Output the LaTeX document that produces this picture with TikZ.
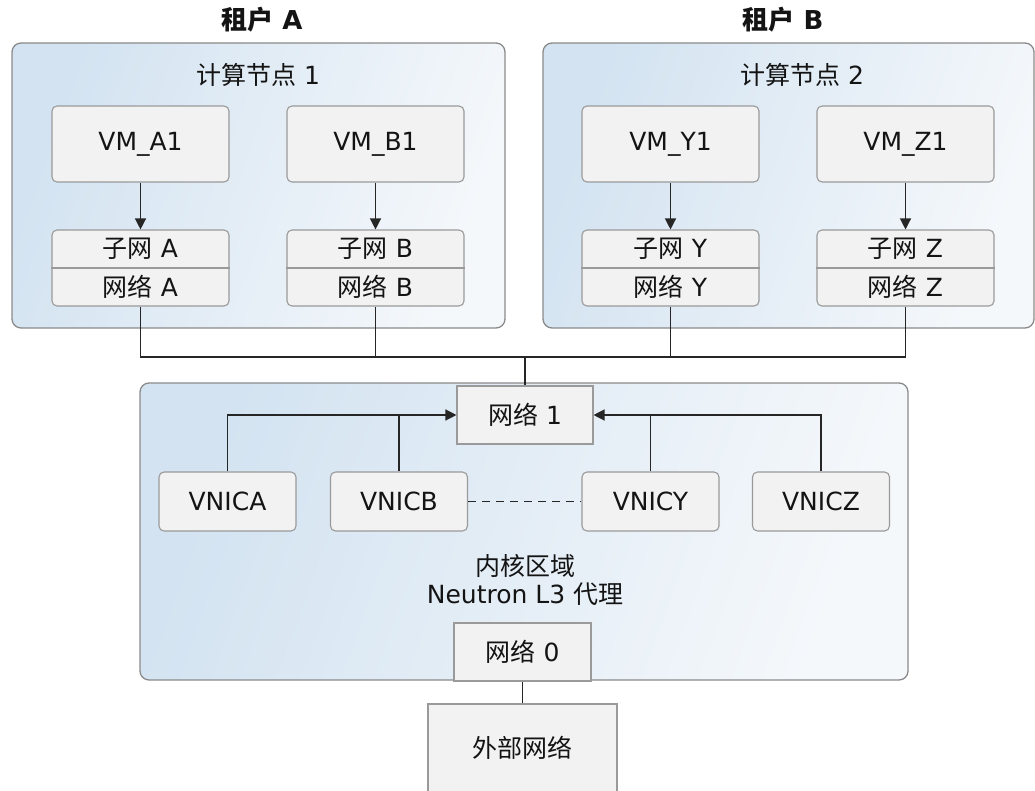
\documentclass[tikz,border=0pt]{standalone}
\usepackage{fontspec}
\setmainfont{DejaVu Sans}
\newfontfamily\cjk{Noto Sans CJK SC}
\usetikzlibrary{arrows.meta}

\definecolor{boxfill}{HTML}{F2F2F3}
\definecolor{boxline}{HTML}{9A9A9A}
\definecolor{panelline}{HTML}{8A8A8A}
\definecolor{paneldark}{HTML}{D3E3F1}
\definecolor{panellight}{HTML}{F5F8FB}
\definecolor{ink}{HTML}{141414}
\definecolor{wire}{HTML}{262626}

\tikzset{
  txt/.style={font=\fontsize{25}{30}\selectfont, text=ink, inner sep=0pt},
  title/.style={font=\fontsize{26}{30}\selectfont\bfseries, text=ink, inner sep=0pt},
  panel/.style={draw=panelline, line width=1.3pt, rounded corners=9pt,
    shading=axis, left color=paneldark, right color=panellight, shading angle=70,
    inner sep=0pt},
  rbox/.style={draw=boxline, line width=1.1pt, fill=boxfill, rounded corners=5pt,
    inner sep=0pt, font=\fontsize{25}{30}\selectfont, text=ink},
  sbox/.style={draw=boxline, line width=1.1pt, fill=boxfill,
    inner sep=0pt, font=\fontsize{25}{30}\selectfont, text=ink},
  wireline/.style={draw=wire, line width=1.3pt},
  arr/.style={wireline, -{Triangle[length=11pt,width=11pt]}},
  dashline/.style={draw=wire, line width=1.2pt, dash pattern=on 8pt off 6pt},
}

\begin{document}
\begin{tikzpicture}[x=1pt,y=-1pt]
\clip (0,0) rectangle (1035,791);
\useasboundingbox (0,0) rectangle (1035,791);

% tenant titles
\node[title] (tA) at (262,20) {{\cjk\bfseries 租户} A};
\node[title] (tB) at (783,20) {{\cjk\bfseries 租户} B};

% compute node panels
\node[panel, minimum width=493pt, minimum height=285pt] (p1) at (258.5,185.5) {};
\node[panel, minimum width=491pt, minimum height=285pt] (p2) at (788.5,185.5) {};
\node[txt] (c1) at (258,75) {{\cjk 计算节点} 1};
\node[txt] (c2) at (802,75) {{\cjk 计算节点} 2};

% virtual machines with their subnet / network boxes
\foreach \v/\n/\x/\l in {vma/sa/140.5/A, vmb/sb/375.5/B, vmy/sy/670.5/Y, vmz/sz/905.5/Z}{
  \node[rbox, minimum width=177pt, minimum height=76pt] (\v) at (\x,144) {VM\_\l1};
  \node[rbox, minimum width=177pt, minimum height=76pt] (\n) at (\x,268) {};
  \draw[draw=boxline, line width=1.1pt] (\n.west) -- (\n.east);
  \node[txt] (\n-top) at ([yshift=19pt]\n.center) {{\cjk 子网} \l};
  \node[txt] (\n-bot) at ([yshift=-18.5pt]\n.center) {{\cjk 网络} \l};
  \draw[arr] (\v.south) -- (\n.north);
}

% kernel zone panel
\node[panel, minimum width=768pt, minimum height=297pt] (p3) at (524,531.5) {};
\node[sbox, minimum width=136pt, minimum height=58pt] (n1) at (525,415) {{\cjk 网络} 1};
\node[sbox, minimum width=137pt, minimum height=58pt] (n0) at (522.5,652) {{\cjk 网络} 0};

\foreach \n/\x/\t in {va/227.5/VNICA, vb/399/VNICB, vy/650.5/VNICY, vz/821/VNICZ}{
  \node[rbox, minimum width=137pt, minimum height=59pt] (\n) at (\x,501.5) {\t};
}
\node[txt] (kz) at (525,566) {\cjk 内核区域};
\node[txt] (l3) at (525,594) {Neutron L3 {\cjk 代理}};

% external network
\node[sbox, minimum width=189pt, minimum height=88pt] (ext) at (522.5,748) {\cjk 外部网络};

% tenant networks to shared bus
\coordinate (bus) at (525,357);
\draw[wireline] (sa.south) |- (sz.south |- bus) -- (sz.south);
\draw[wireline] (sb.south) -- (sb.south |- bus);
\draw[wireline] (sy.south) -- (sy.south |- bus);
\draw[wireline] (bus) -- (n1.north);

% VNICs to network 1
\draw[arr] (va.north) |- (n1.west);
\draw[wireline] (vb.north) -- (vb.north |- n1.west);
\draw[arr] (vz.north) |- (n1.east);
\draw[wireline] (vy.north) -- (vy.north |- n1.east);
\draw[dashline] (vb.east) -- (vy.west);

% uplink
\draw[wireline] (n0.south) -- (ext.north);
\end{tikzpicture}
\end{document}
